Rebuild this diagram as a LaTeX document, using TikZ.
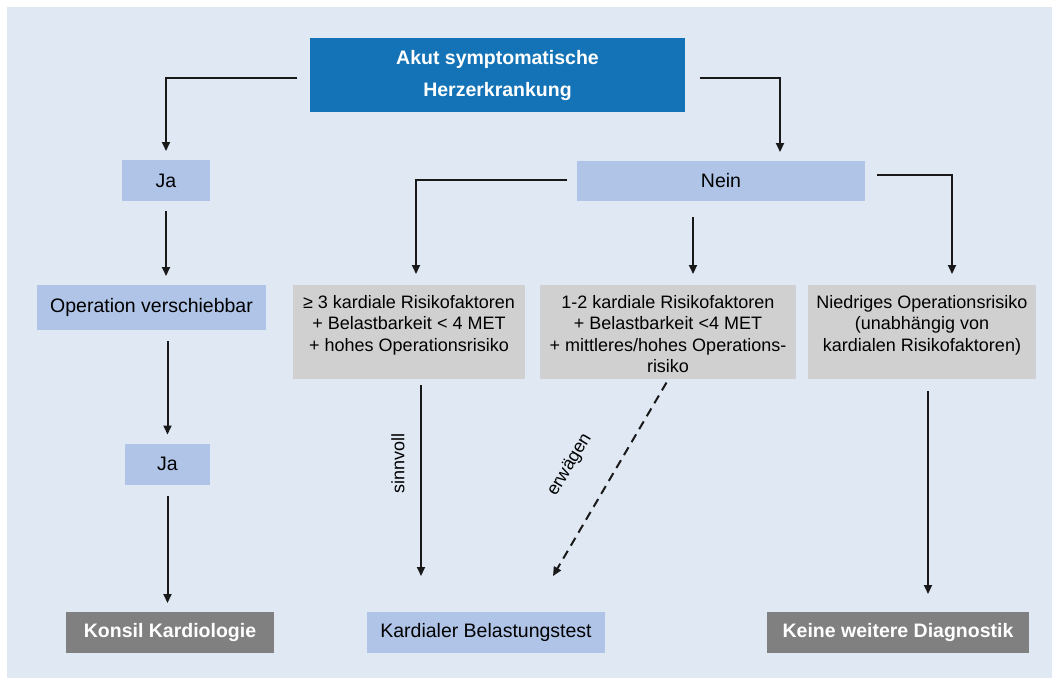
\documentclass[tikz,border=0pt]{standalone}
\usepackage{fontspec}
\setmainfont{Liberation Sans}
\usepackage{tikz}
\usetikzlibrary{arrows.meta}
\definecolor{bgblue}{RGB}{223,232,243}
\definecolor{topblue}{RGB}{19,115,182}
\definecolor{lightblue}{RGB}{175,196,231}
\definecolor{greybox}{RGB}{208,208,208}
\definecolor{darkgrey}{RGB}{128,128,128}
\definecolor{linegrey}{RGB}{25,25,25}
\newcommand{\riskbox}[2]{\parbox[c][78pt][t]{#1}{\centering\strut #2}}

\begin{document}
\begin{tikzpicture}[->,>={Triangle[length=9pt,width=8pt]},shorten >=8pt,shorten <=9pt,x=1pt,y=-1pt,
		line width=2pt,draw=linegrey,
		head node/.style={fill=topblue,text=white,font=\fontsize{19.5}{32}\selectfont\bfseries,
			minimum width=375pt,minimum height=74pt,inner sep=0pt,align=center},
		answer node/.style={fill=lightblue,font=\fontsize{19.5}{23}\selectfont,minimum height=41pt,inner sep=0pt},
		risk node/.style={fill=greybox,font=\fontsize{18}{21.5}\selectfont,minimum height=94pt,inner sep=0pt},
		end node/.style={fill=darkgrey,text=white,font=\fontsize{19.5}{23}\selectfont\bfseries,
			minimum height=41pt,inner sep=0pt},
		edge text/.style={font=\fontsize{18}{21.5}\selectfont,inner sep=0pt}]
		\useasboundingbox (0,0) rectangle (1052,678);
		\fill[bgblue,-] (7,7) rectangle (1052,678);

		\node[head node] (top) at (497.5,75) {Akut symptomatische\\Herzerkrankung};
		\node[answer node,minimum width=88pt] (ja1) at (166,180.5) {Ja};
		\node[answer node,minimum width=229pt,minimum height=45pt] (opv) at (151.5,307.5) {Operation verschiebbar};
		\node[answer node,minimum width=85pt] (ja2) at (167.5,464) {Ja};
		\node[end node,minimum width=208pt] (kons) at (170,632.5) {Konsil Kardiologie};

		\node[answer node,minimum width=288pt,minimum height=40pt] (nein) at (721,181) {Nein};
		\node[risk node,minimum width=232pt] (rk1) at (409,332)
			{\riskbox{232pt}{≥ 3 kardiale Risikofaktoren\\+ Belastbarkeit < 4 MET\\+ hohes Operationsrisiko}};
		\node[risk node,minimum width=256pt] (rk2) at (668,332)
			{\riskbox{256pt}{1-2 kardiale Risikofaktoren\\+ Belastbarkeit <4 MET\\+ mittleres/hohes Operations-\\risiko}};
		\node[risk node,minimum width=228pt] (rk3) at (922,332)
			{\riskbox{228pt}{Niedriges Operationsrisiko\\(unabhängig von\\kardialen Risikofaktoren)}};
		\node[answer node,minimum width=238pt] (kbt) at (486,632.5) {Kardialer Belastungstest};
		\node[end node,minimum width=262pt] (keine) at (898,632.5) {Keine weitere Diagnostik};

		% Ja branch
		\draw[shorten <=12pt] ([yshift=-3pt]top.west) -| (ja1.north);
		\draw (ja1.south) -- (ja1.south |- opv.north);
		\draw[shorten <=10pt] (ja2.north |- opv.south) -- (ja2.north);
		\draw[shorten <=10pt] (ja2.south) -- (ja2.south |- kons.north);

		% Nein branch
		\draw[shorten <=14pt] ([yshift=-3pt]top.east) -| ([xshift=59pt]nein.north);
		\draw[shorten >=10pt] ([yshift=1pt]nein.west) -| ([xshift=7pt]rk1.north);
		\draw[shorten <=15pt,shorten >=10pt] ([xshift=-28pt]nein.south) -- ([xshift=25pt]rk2.north);
		\draw[shorten <=11pt,shorten >=10pt] ([yshift=6pt]nein.east) -| ([xshift=30pt]rk3.north);

		\coordinate (s1) at ([xshift=12pt]rk1.south);
		\coordinate (d2) at ([xshift=67pt,yshift=35pt]kbt.north);
		\coordinate (s3) at ([xshift=6pt]rk3.south);
		\draw[shorten <=5pt,shorten >=35pt] (s1) -- (s1 |- kbt.north);
		\draw[dash pattern=on 9pt off 6pt,shorten <=3pt,shorten >=0pt] (rk2.south) -- (d2);
		\draw[shorten <=11pt,shorten >=17pt] (s3) -- (s3 |- keine.north);
		\node[edge text,rotate=90] (sv) at (398,463) {sinnvoll};
		\node[edge text,rotate=59] (ew) at (570,465) {erwägen};
\end{tikzpicture}
\end{document}
